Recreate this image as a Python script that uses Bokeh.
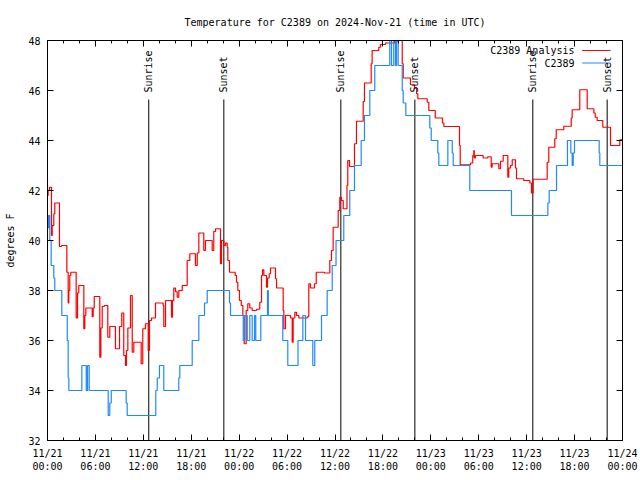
from bokeh.plotting import figure
from bokeh.models import FixedTicker, LinearAxis, Range1d, Label
from bokeh.embed import file_html
from bokeh.resources import INLINE

TITLE = "Temperature for C2389 on 2024-Nov-21 (time in UTC)"
Y_LABEL = "degrees F"
FONT = "DejaVu Sans Mono"

# hours since 2024-11-21 00:00 UTC
analysis_hours = [0.00, 0.08, 0.25, 0.50, 0.59, 0.79, 0.91, 1.50, 1.75, 2.42, 2.59, 2.67, 2.79, 2.92,
                  3.59, 3.76, 3.92, 4.55, 4.67, 4.80, 5.60, 5.72, 5.85, 6.55, 6.68, 6.85, 7.10, 7.55,
                  7.80, 8.51, 9.02, 9.30, 9.55, 9.77, 9.89, 10.06, 10.39, 10.61, 10.81, 11.73, 11.93,
                  12.27, 12.61, 12.77, 13.02, 13.52, 14.48, 14.56, 14.78, 15.53, 15.65, 15.81, 16.03,
                  16.24, 16.44, 16.87, 17.49, 17.82, 18.53, 18.75, 18.95, 19.57, 19.78, 20.62, 20.82,
                  21.04, 21.66, 21.79, 22.08, 22.29, 22.50, 22.58, 22.79, 23.50, 23.67, 23.83, 24.04,
                  24.26, 24.46, 24.63, 24.88, 25.08, 25.33, 25.63, 26.17, 26.58, 26.80, 26.92, 27.09,
                  27.42, 27.55, 27.76, 27.92, 28.55, 28.68, 29.51, 29.59, 29.80, 30.43, 30.64, 30.76,
                  30.97, 31.18, 31.47, 32.52, 32.72, 32.93, 33.43, 33.65, 34.69, 35.35, 35.56, 35.77,
                  36.40, 36.60, 36.81, 37.03, 37.50, 37.60, 37.82, 38.44, 38.69, 39.53, 39.69, 40.53,
                  40.65, 41.48, 41.70, 42.32, 43.45, 43.79, 44.42, 44.54, 45.45, 45.96, 46.21, 46.37,
                  47.55, 47.75, 48.55, 49.46, 49.63, 51.59, 51.68, 52.97, 53.25, 53.38, 53.44, 53.59,
                  54.55, 55.13, 55.56, 55.68, 56.51, 56.72, 57.06, 57.64, 57.76, 57.98, 58.19, 58.60,
                  58.73, 59.64, 60.39, 60.60, 60.81, 62.57, 62.77, 63.52, 63.70, 64.65, 65.58, 65.70,
                  66.65, 67.58, 68.41, 68.58, 68.83, 69.53, 70.50, 71.66, 72.00]
analysis_temp = [41.8, 42.0, 42.13, 40.2, 40.6, 41.07, 41.5, 39.76, 39.8, 38.73, 37.5, 38.0, 38.6, 38.73,
                 36.9, 37.9, 38.2, 36.47, 37.0, 37.3, 36.95, 37.3, 37.76, 35.33, 36.5, 37.36, 37.4, 36.13,
                 36.56, 35.67, 36.56, 37.1, 35.4, 35.0, 35.6, 36.5, 37.8, 35.53, 35.93, 35.07, 36.47,
                 36.67, 35.6, 36.8, 36.9, 37.5, 37.4, 36.56, 37.6, 36.93, 37.6, 38.1, 37.95,
                 37.73, 38.0, 38.2, 39.2, 39.47, 39.0, 39.5, 40.3, 39.6, 40.0, 39.6, 40.36,
                 40.47, 39.07, 40.0, 39.8, 39.9, 39.73, 39.2, 38.73, 38.6, 38.33, 38.0, 37.6,
                 37.4, 37.0, 35.87, 37.2, 37.47, 37.3, 37.2, 37.25, 37.53, 38.6, 38.83, 38.6,
                 38.13, 38.5, 38.67, 38.9, 38.47, 38.1, 37.2, 36.47, 37.0, 36.9, 35.93, 36.9,
                 37.13, 37.0, 36.9, 36.95, 38.27, 38.1, 38.27, 38.73, 38.7, 39.2, 39.6, 40.53,
                 41.2, 41.73, 41.6, 41.27, 42.2, 43.2, 42.96, 43.87, 44.77, 45.56, 46.3, 47.07,
                 47.6, 47.73, 47.84, 47.9, 47.96, 48.0, 47.07, 46.5, 46.23, 46.1, 45.87, 45.67,
                 45.53, 45.2, 44.9, 44.7, 44.56, 43.8, 43.03, 43.1, 43.4, 43.6, 43.3, 43.4,
                 43.3, 43.35, 42.93, 43.07, 42.87, 43.17, 43.4, 42.53, 42.9, 43.0, 43.23, 42.9,
                 42.47, 42.4, 42.3, 41.9, 42.45, 43.13, 43.73, 44.07, 44.43, 44.57, 44.9, 45.23,
                 46.03, 45.27, 45.1, 44.93, 44.8, 44.53, 43.8, 44.03, 44.03]

obs_hours = [0.00, 0.12, 0.20, 0.25, 0.29, 0.46, 0.79, 0.91, 1.79, 2.47, 2.59, 2.67, 4.30, 4.85, 5.01,
             5.22, 7.60, 7.80, 7.98, 9.85, 9.98, 13.56, 13.74, 14.02, 14.56, 16.44, 16.57, 18.12,
             18.95, 19.66, 20.00, 22.79, 22.92, 24.51, 24.71, 25.01, 25.33, 25.63, 25.92, 26.08,
             26.71, 27.55, 27.65, 29.46, 30.09, 31.37, 31.97, 32.31, 33.22, 33.47, 34.31, 35.02,
             35.65, 36.13, 37.10, 37.85, 38.44, 39.28, 39.69, 40.36, 40.98, 42.86, 43.08, 43.36,
             43.58, 43.70, 43.91, 44.42, 44.54, 44.87, 47.87, 48.05, 48.87, 49.00, 50.13, 50.68,
             50.80, 52.88, 58.10, 62.65, 62.82, 63.74, 65.11, 65.53, 65.70, 65.83, 65.99, 69.08,
             69.16, 72.00]
obs_temp = [40.5, 41.0, 40.5, 41.0, 40.0, 39.0, 38.5, 38.0, 37.0, 36.0, 34.5, 34.0, 35.0, 34.0, 35.0,
            34.0, 33.0, 33.5, 34.0, 33.5, 33.0, 34.0, 34.5, 35.0, 34.0, 34.5, 35.0, 36.0,
            37.0, 37.5, 38.0, 37.5, 37.0, 36.0, 37.0, 36.0, 37.0, 36.0, 37.0, 36.0,
            37.0, 38.0, 37.0, 36.0, 35.0, 36.0, 37.0, 36.0, 35.0, 36.0, 37.0, 38.0,
            39.0, 40.0, 41.0, 42.0, 43.0, 44.0, 45.0, 46.0, 47.0, 48.0, 47.0, 48.0,
            47.0, 48.0, 47.0, 46.0, 45.5, 45.0, 44.5, 44.0, 43.5, 43.0, 44.0, 43.5,
            43.0, 42.0, 41.0, 41.5, 42.0, 43.0, 44.0, 43.5, 43.0, 43.5, 44.0, 43.5,
            43.0, 43.0]

sun_hours = [12.68, 22.08, 36.73, 46.0, 60.77, 70.08]
sun_labels = ["Sunrise", "Sunset", "Sunrise", "Sunset", "Sunrise", "Sunset"]

x_tick_hours = [0, 6, 12, 18, 24, 30, 36, 42, 48, 54, 60, 66, 72]
x_tick_labels = ["11/21\n00:00", "11/21\n06:00", "11/21\n12:00", "11/21\n18:00",
                 "11/22\n00:00", "11/22\n06:00", "11/22\n12:00", "11/22\n18:00",
                 "11/23\n00:00", "11/23\n06:00", "11/23\n12:00", "11/23\n18:00",
                 "11/24\n00:00"]
x_minor_hours = list(range(0, 73, 2))
y_ticks = [32, 34, 36, 38, 40, 42, 44, 46, 48]

series_names = ["C2389 Analysis", "C2389"]
series_colors = ["#ff0000", "#1e88ff"]

# layout (styling) constants
X0, X1, Y0, Y1 = 0, 72, 32, 48
SUN_LINE_TOP = 45.64
SUN_TEXT_Y = 45.92
LEG_TEXT_X = 65.99
LEG_LINE_X0, LEG_LINE_X1 = 66.95, 70.5
LEG_Y = [47.6, 47.1]

p = figure(width=640, height=480, x_range=Range1d(X0, X1), y_range=Range1d(Y0, Y1),
           output_backend="svg", toolbar_location=None, title=TITLE,
           min_border_left=47, min_border_right=18, min_border_top=40, min_border_bottom=40)
p.title.align = "center"
p.title.text_font = FONT
p.title.text_font_size = "10px"
p.title.text_font_style = "normal"
p.title.text_color = "black"
p.title.standoff = 25
p.grid.visible = False
p.outline_line_color = "black"
p.outline_line_width = 1
p.background_fill_color = "white"
p.border_fill_color = "white"

for ax in p.xaxis:
    ax.ticker = FixedTicker(ticks=x_tick_hours, minor_ticks=x_minor_hours)
    ax.major_label_overrides = {h: lab for h, lab in zip(x_tick_hours, x_tick_labels)}
    ax.major_tick_in = 6
    ax.major_tick_out = 0
    ax.minor_tick_in = 3
    ax.minor_tick_out = 0
    ax.major_label_text_font = FONT
    ax.major_label_text_font_size = "10px"
    ax.major_label_text_color = "black"
    ax.major_label_standoff = 7
    ax.axis_line_color = "black"

for ax in p.yaxis:
    ax.ticker = FixedTicker(ticks=y_ticks, minor_ticks=[])
    ax.major_tick_in = 6
    ax.major_tick_out = 0
    ax.minor_tick_line_color = None
    ax.major_label_text_font = FONT
    ax.major_label_text_font_size = "10px"
    ax.major_label_text_color = "black"
    ax.major_label_standoff = 7
    ax.axis_label = Y_LABEL
    ax.axis_label_text_font = FONT
    ax.axis_label_text_font_size = "10px"
    ax.axis_label_text_font_style = "normal"
    ax.axis_label_text_color = "black"
    ax.axis_label_standoff = 9

right_ax = LinearAxis(ticker=FixedTicker(ticks=y_ticks, minor_ticks=[]),
                      major_tick_in=6, major_tick_out=0, minor_tick_line_color=None,
                      major_label_text_color=None, major_label_text_font_size="10px",
                      major_label_standoff=0, axis_line_color="black")
p.add_layout(right_ax, "right")
top_ax = LinearAxis(ticker=FixedTicker(ticks=x_tick_hours, minor_ticks=x_minor_hours),
                    major_tick_in=6, major_tick_out=0, minor_tick_in=3, minor_tick_out=0,
                    major_label_text_color=None, major_label_text_font_size="10px",
                    major_label_standoff=0, axis_line_color="black")
p.add_layout(top_ax, "above")

# sunrise / sunset markers
p.segment(x0=sun_hours, x1=sun_hours, y0=[Y0] * len(sun_hours), y1=[SUN_LINE_TOP] * len(sun_hours),
          line_color="black", line_width=1)
for h, lab in zip(sun_hours, sun_labels):
    p.add_layout(Label(x=h, y=SUN_TEXT_Y, text=lab, angle=90, angle_units="deg",
                       text_align="left", text_baseline="middle", text_font=FONT,
                       text_font_size="10px", text_color="black"))

# data series (gnuplot-style steps)
p.step(analysis_hours, analysis_temp, mode="after", line_color=series_colors[0], line_width=1.2)
p.step(obs_hours, obs_temp, mode="after", line_color=series_colors[1], line_width=1.2)

# legend (gnuplot style: text then sample)
for name, col, ly in zip(series_names, series_colors, LEG_Y):
    p.add_layout(Label(x=LEG_TEXT_X, y=ly, text=name, text_align="right", text_baseline="middle",
                       text_font=FONT, text_font_size="10px", text_color="black"))
    p.segment(x0=[LEG_LINE_X0], x1=[LEG_LINE_X1], y0=[ly], y1=[ly], line_color=col, line_width=1.2)

open("out.html", "w").write(file_html(p, INLINE))
